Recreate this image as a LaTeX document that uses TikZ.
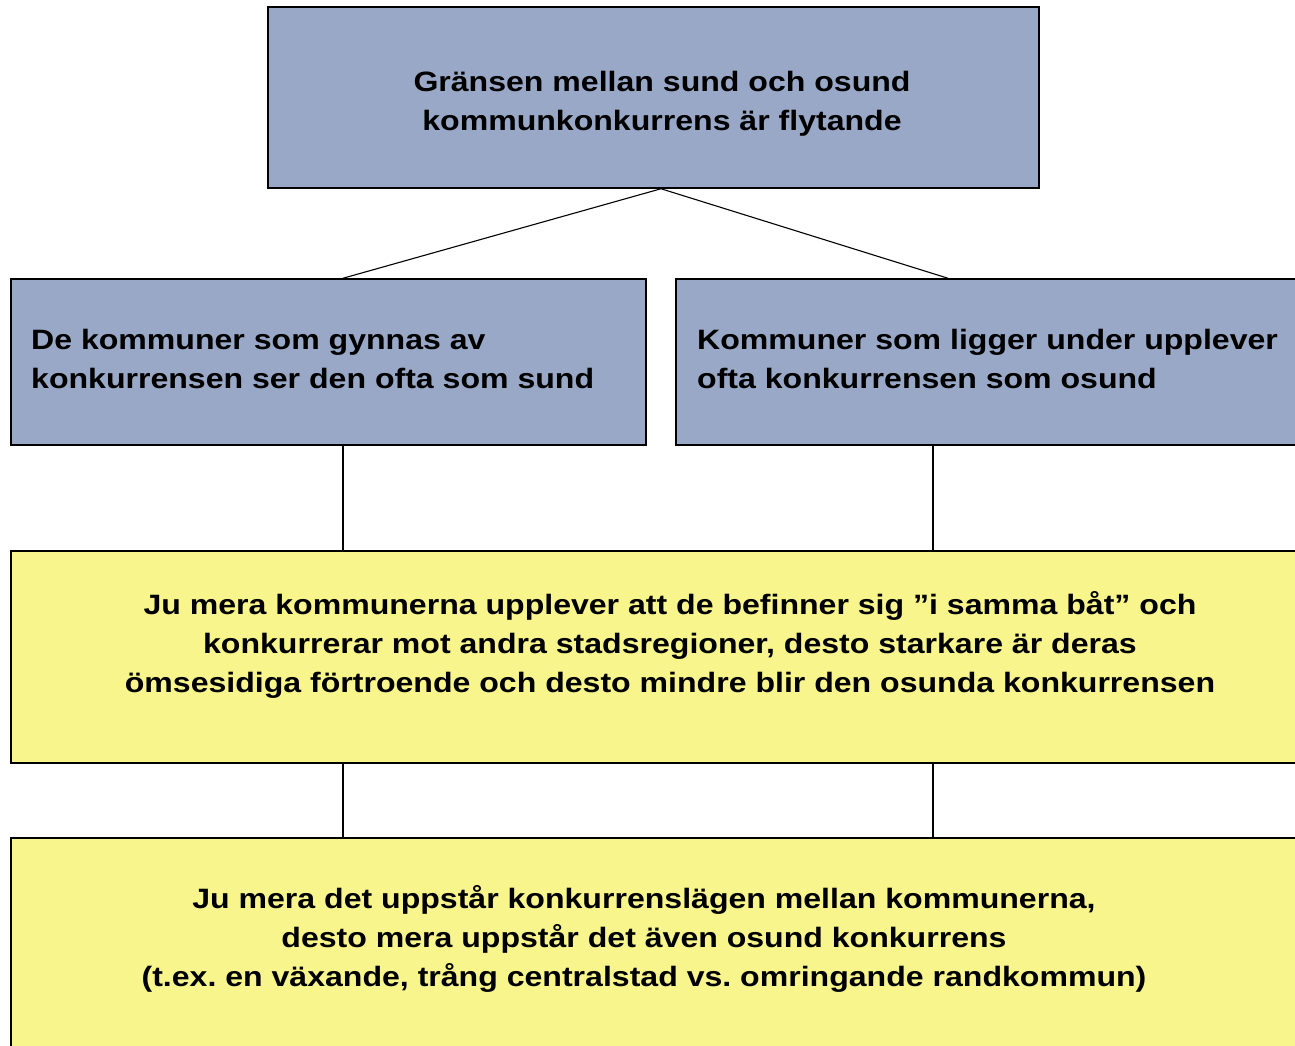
\documentclass[tikz,border=0pt]{standalone}
\usepackage{fontspec}
\setmainfont[FakeStretch=1.145]{Liberation Sans}
\usetikzlibrary{positioning}
\definecolor{boxblue}{RGB}{152,168,198}
\definecolor{boxyellow}{RGB}{248,245,140}
\tikzset{
  panel/.style={rectangle, draw, line width=1.5pt, inner sep=0pt},
  caption/.style={font=\bfseries\fontsize{28}{39}\selectfont, inner sep=0pt},
  link/.style={line width=1.1pt}
}
\frenchspacing

\begin{document}
\begin{tikzpicture}[x=1pt, y=-1pt]
\useasboundingbox (0,0) rectangle (1295,1045);

% Nodes
\node[panel, fill=boxblue, minimum width=771pt, minimum height=181pt] (top) at (653.5,97.5) {};
\node[panel, fill=boxblue, minimum width=635pt, minimum height=166pt] (left) at (328.5,362) {};
\node[panel, fill=boxblue, minimum width=635pt, minimum height=166pt] (right) at (993.5,362) {};
\node[panel, fill=boxyellow, minimum width=1318pt, minimum height=212pt] (upper) at (670,657) {};
\node[panel, fill=boxyellow, minimum width=1318pt, minimum height=224pt] (lower) at (670,950) {};

% Texts
\node[caption, align=center] (toptext) at (662,104) {Gränsen mellan sund och osund\\ kommunkonkurrens är flytande};
\node[caption, align=left, anchor=west] (lefttext) at (31,358.5) {De kommuner som gynnas av\\ konkurrensen ser den ofta som sund};
\node[caption, align=left, anchor=west] (righttext) at (697,358.5) {Kommuner som ligger under upplever\\ ofta konkurrensen som osund};
\node[caption, align=center] (uppertext) at (670,644.5) {Ju mera kommunerna upplever att de befinner sig ”i samma båt” och\\ konkurrerar mot andra stadsregioner, desto starkare är deras\\ ömsesidiga förtroende och desto mindre blir den osunda konkurrensen};
\node[caption, align=center] (lowertext) at (644,938.5) {Ju mera det uppstår konkurrenslägen mellan kommunerna,\\ desto mera uppstår det även osund konkurrens\\ (t.ex. en växande, trång centralstad vs. omringande randkommun)};

% Edges
\draw[link] ([xshift=7.5]top.south) -- ([xshift=14.5]left.north);
\draw[link] ([xshift=7.5]top.south) -- ([xshift=-45.5]right.north);
\draw[link] ([xshift=14.5]left.south) -- ([xshift=14.5]left.south |- upper.north);
\draw[link] ([xshift=-60.5]right.south) -- ([xshift=-60.5]right.south |- upper.north);
\draw[link] ([xshift=14.5]left.south |- upper.south) -- ([xshift=14.5]left.south |- lower.north);
\draw[link] ([xshift=-60.5]right.south |- upper.south) -- ([xshift=-60.5]right.south |- lower.north);
\end{tikzpicture}
\end{document}
